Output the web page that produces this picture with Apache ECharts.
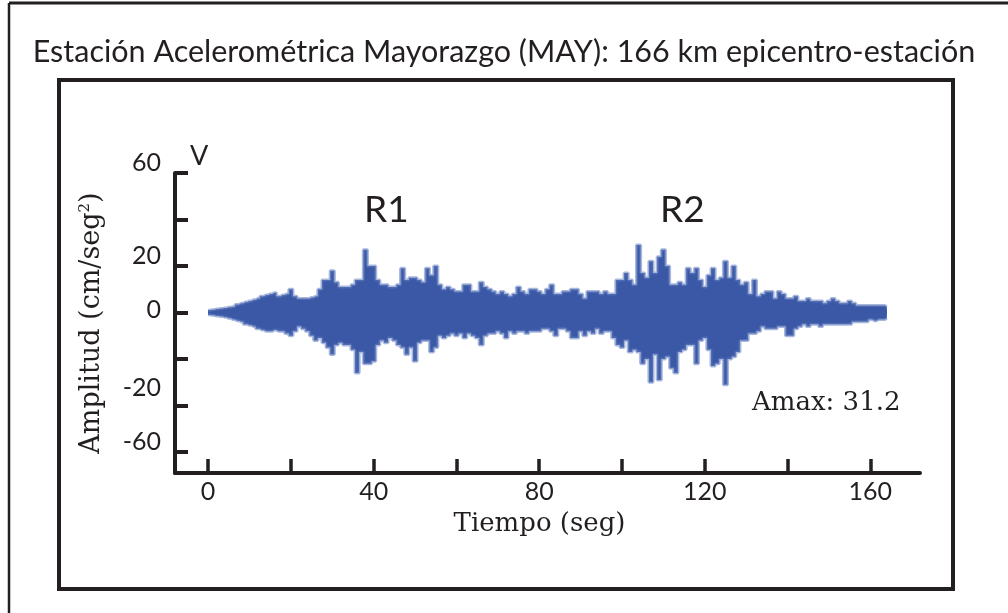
<!DOCTYPE html>
<html>
<head>
<meta charset="utf-8">
<script src="https://cdn.jsdelivr.net/npm/echarts@6/dist/echarts.min.js"></script>
<style>
  html, body { margin: 0; padding: 0; background: #fff; }
  #chart { width: 1008px; height: 613px; }
</style>
</head>
<body>
<div id="chart"></div>
<script>
// envelope of the record, one value per second (cm/seg2)
const upperEnv = [
  1, 1.2, 1.5, 1.7, 2, 2.3, 2.5, 3.5, 4, 4.5,
  5, 5.5, 6, 7, 7.5, 8, 8.5, 7, 7.5, 8,
  10, 7, 6, 6, 6, 6.5, 7, 10, 14, 14,
  18, 13, 11, 11, 11, 12, 14, 14, 27, 20,
  20, 14, 12, 12, 11, 11, 12, 19, 14, 15,
  15, 14, 13, 19, 16, 20, 12, 10, 11, 10,
  9, 9, 12, 12, 9, 9, 13, 11, 10, 9,
  8, 9, 8, 7, 8, 11, 9, 8, 10, 10,
  9, 8, 10, 12, 8, 8, 9, 9, 10, 10,
  8, 6, 9, 9, 9, 8, 9, 8, 8, 14,
  14, 17, 14, 12, 29, 17, 15, 22, 17, 24,
  27, 20, 12, 12, 13, 12, 19, 17, 19, 14,
  11, 16, 19, 14, 15, 22, 15, 20, 14, 12,
  13, 8, 14, 7, 8, 9, 9, 6, 9, 8,
  6, 6, 7, 5, 5, 6, 5, 5, 5, 4,
  5, 6, 5, 4, 4, 5, 4, 3, 3, 3,
  3, 3, 3, 3, 2.5
];
const lowerEnv = [
  -1, -1.2, -1.5, -1.7, -2, -2.5, -3, -3.5, -4, -5,
  -5.5, -6, -7, -7.5, -8, -8, -7.5, -8, -8, -9,
  -10, -8, -6, -7, -8, -10, -12, -11, -13, -15,
  -18, -14, -13, -14, -14, -16, -26, -17, -22, -22,
  -21, -14, -12, -13, -11, -12, -14, -15, -18, -15,
  -21, -13, -12, -12, -17, -15, -10, -11, -10, -9,
  -10, -9, -11, -9, -10, -11, -14, -10, -9, -9,
  -8, -9, -11, -8, -9, -8, -8, -9, -8, -8,
  -8, -7, -7, -8, -10, -7, -7, -8, -11, -11,
  -8, -10, -8, -9, -7, -9, -8, -8, -11, -14,
  -15, -12, -17, -16, -17, -22, -20, -30, -18, -29,
  -20, -19, -24, -26, -17, -16, -14, -14, -22, -12,
  -11, -16, -23, -22, -20, -31, -20, -19, -17, -12,
  -12, -9, -9, -8, -6, -7, -7, -7, -6, -6,
  -10, -10, -7, -6, -5, -6, -5, -5, -6, -5,
  -5, -5, -5, -5, -5, -5, -4, -4, -4, -4,
  -3, -3.5, -3, -3, -2.5
];
const timeTicks = [0, 20, 40, 60, 80, 100, 120, 140, 160];
const timeLabels = [0, 40, 80, 120, 160];
const ampTicks = [60, 40, 20, 0, -20, -40, -60];
const ampLabels = [60, 20, 0, -40, -60];
const ampLabelText = { '60': '60', '20': '20', '0': '0', '-40': '-20', '-60': '-60' };

const ink = '#231f20';
const wave = '#3a58a6';
const halo = 'rgba(96,124,190,0.55)';
const sans = 'Lato';
const serif = 'DejaVu Serif';

const chart = echarts.init(document.getElementById('chart'), null, { renderer: 'canvas' });

const option = {
  backgroundColor: '#fff',
  animation: false,
  title: {
    text: 'Estación Acelerométrica Mayorazgo (MAY): 166 km epicentro-estación',
    left: 'center',
    top: 32,
    padding: [5, 0, 5, 8],
    textStyle: { fontFamily: sans, fontWeight: 'normal', fontSize: 30.5, color: ink }
  },
  grid: { left: 175, right: 88, top: 173, bottom: 140 },
  xAxis: {
    type: 'value',
    min: -8,
    max: 172,
    name: 'Tiempo (seg)',
    nameLocation: 'middle',
    nameGap: 38,
    nameTextStyle: { fontFamily: serif, fontSize: 26, color: ink, padding: [0, 16, 0, 0] },
    axisLine: { show: true, onZero: false, lineStyle: { color: ink, width: 4 } },
    axisTick: { show: true, inside: true, length: 14, customValues: timeTicks, lineStyle: { color: ink, width: 3.5 } },
    axisLabel: { customValues: timeLabels, margin: 6, fontFamily: sans, fontSize: 25, color: ink },
    splitLine: { show: false }
  },
  yAxis: {
    type: 'value',
    min: -69,
    max: 60,
    name: 'Amplitud (cm/seg{sup|2})',
    nameLocation: 'middle',
    nameRotate: 90,
    nameGap: 70,
    nameTextStyle: {
      fontFamily: serif, fontSize: 27, color: ink,
      rich: { sup: { fontFamily: serif, fontSize: 15, color: ink, verticalAlign: 'top', padding: [0, 0, 10, 0] } }
    },
    axisLine: { show: true, onZero: false, lineStyle: { color: ink, width: 4 } },
    axisTick: { show: true, inside: true, length: 13, customValues: ampTicks, lineStyle: { color: ink, width: 4 } },
    axisLabel: {
      customValues: ampLabels,
      margin: 14,
      fontFamily: sans,
      fontSize: 25,
      color: ink,
      formatter: v => {
        const txt = ampLabelText[String(v)];
        if (v === 0) return '{m|' + txt + '}';
        if (v === -40) return '{c|' + txt + '}';
        return '{b|' + txt + '}';
      },
      rich: {
        b: { fontFamily: sans, fontSize: 25, color: ink, padding: [0, 0, 20, 0] },
        c: { fontFamily: sans, fontSize: 25, color: ink, padding: [0, 0, 36, 0] },
        m: { fontFamily: sans, fontSize: 25, color: ink, padding: [0, 0, 6, 0] }
      }
    },
    splitLine: { show: false }
  },
  series: [
    {
      type: 'line',
      step: 'middle',
      symbol: 'none',
      data: upperEnv.map((v, i) => [i, v]),
      lineStyle: { color: halo, width: 3 },
      areaStyle: { color: wave, opacity: 1, origin: -1 },
      z: 3
    },
    {
      type: 'line',
      step: 'middle',
      symbol: 'none',
      data: lowerEnv.map((v, i) => [i, v]),
      lineStyle: { color: halo, width: 3 },
      areaStyle: { color: wave, opacity: 1, origin: 1 },
      z: 3
    }
  ],
  graphic: [
    // outer frame (top and left only)
    { type: 'line', shape: { x1: 9, y1: 3, x2: 1008, y2: 3 }, style: { stroke: ink, lineWidth: 3 } },
    { type: 'line', shape: { x1: 9, y1: 3, x2: 9, y2: 613 }, style: { stroke: ink, lineWidth: 2.5 } },
    // inner box
    { type: 'rect', shape: { x: 59, y: 80, width: 894, height: 509 }, style: { fill: 'none', stroke: ink, lineWidth: 4 } },
    { type: 'text', left: 190, top: 143, style: { text: 'V', fontFamily: sans, fontSize: 27, fill: ink } },
    { type: 'text', left: 364, top: 192, style: { text: 'R1', fontFamily: sans, fontSize: 37, fill: ink } },
    { type: 'text', left: 660, top: 192, style: { text: 'R2', fontFamily: sans, fontSize: 37, fill: ink } },
    { type: 'text', left: 752, top: 390, style: { text: 'Amax: 31.2', fontFamily: serif, fontSize: 26, fill: ink } }
  ]
};

chart.setOption(option);
</script>
</body>
</html>
